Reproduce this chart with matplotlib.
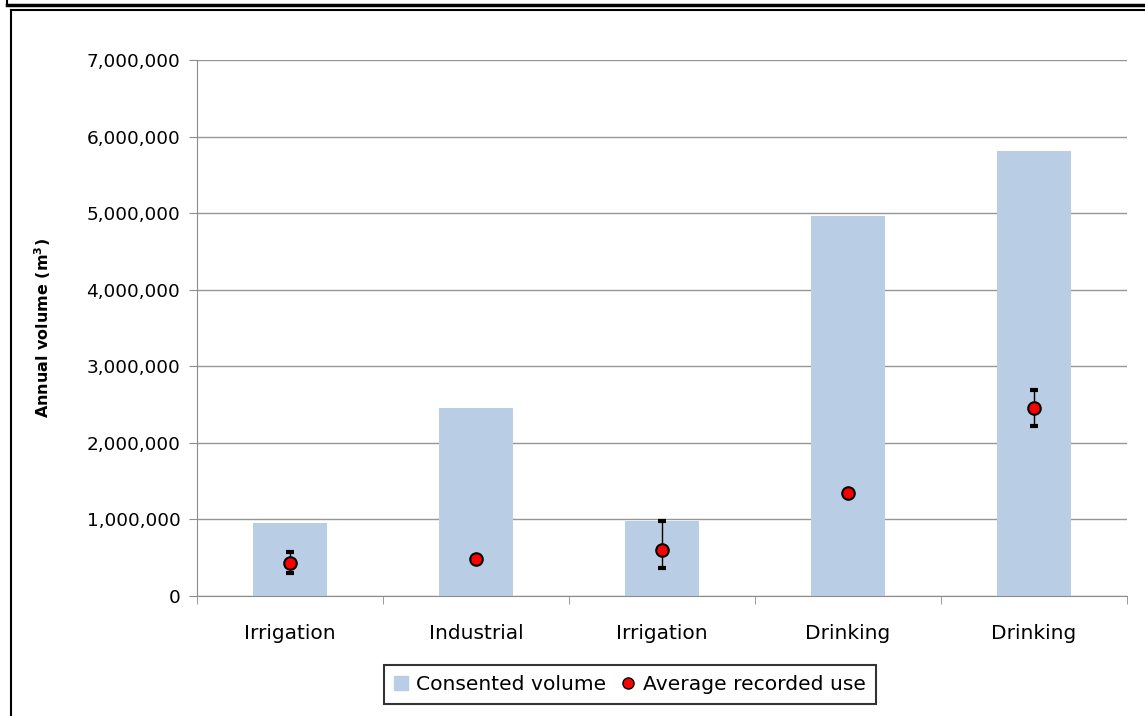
import numpy as np
import matplotlib
matplotlib.use("Agg")
import matplotlib.pyplot as plt
from matplotlib.lines import Line2D
from matplotlib.patches import Patch
from matplotlib.ticker import FuncFormatter

categories = ["Irrigation", "Industrial", "Irrigation", "Drinking", "Drinking"]
consented = [950000, 2450000, 975000, 4960000, 5810000]
avg_use = [430000, 480000, 600000, 1340000, 2460000]
err_low = [300000, 480000, 370000, 1340000, 2220000]
err_high = [580000, 480000, 975000, 1340000, 2690000]

plt.rcParams['font.family'] = ['DejaVu Sans']

fig = plt.figure(figsize=(11.45, 7.16), dpi=100)
ax = fig.add_axes([0.172, 0.1676, 0.812, 0.7486])

x = np.arange(len(categories))
ax.bar(x, consented, width=0.4, color='#B9CDE5', zorder=2)

yerr = [np.array(avg_use) - np.array(err_low), np.array(err_high) - np.array(avg_use)]
ax.errorbar(x, avg_use, yerr=yerr, fmt='none', ecolor='black', elinewidth=1,
            capsize=3, capthick=3, zorder=3)
ax.plot(x, avg_use, 'o', color='red', markeredgecolor='black',
        markeredgewidth=1.5, markersize=9, zorder=4)

ax.set_xlim(-0.5, len(categories) - 0.5)
ax.set_ylim(0, 7000000)
ax.set_yticks(np.arange(0, 7000001, 1000000))
ax.yaxis.set_major_formatter(FuncFormatter(lambda v, p: f"{int(v):,}"))
ax.grid(axis='y', color='#969696', linewidth=1, zorder=0)

ax.set_xticks(x)
ax.set_xticklabels(categories)
ax.set_xticks(np.arange(-0.5, len(categories), 1), minor=True)
ax.tick_params(axis='x', which='major', length=0, pad=20, labelsize=14.5)
ax.tick_params(axis='x', which='minor', length=6, color='#8c8c8c')
ax.tick_params(axis='y', length=6, color='#8c8c8c', labelsize=13.3, pad=6)

for s in ['top', 'right']:
    ax.spines[s].set_visible(False)
for s in ['left', 'bottom']:
    ax.spines[s].set_color('#8c8c8c')

ax.set_ylabel("Annual volume (m$^\\mathbf{3}$)", fontsize=11.5, fontweight='bold', labelpad=24)

handles = [Patch(color='#B9CDE5'),
           Line2D([], [], marker='o', linestyle='none', color='red',
                  markeredgecolor='black', markersize=8)]
leg = fig.legend(handles, ["Consented volume", "Average recorded use"], ncol=2,
                 loc='center', bbox_to_anchor=(0.55, 0.044), fontsize=14.6,
                 frameon=True, fancybox=False, edgecolor='black',
                 handlelength=0.7, handletextpad=0.4, columnspacing=0.7,
                 borderpad=0.5, borderaxespad=0)
leg.get_frame().set_linewidth(1.5)

# outer chart frame and the edge of the box above
fig.add_artist(Line2D([0.0097, 0.0097], [0, 1 - 10 / 716], color='black', lw=1.5,
                      transform=fig.transFigure))
fig.add_artist(Line2D([0.0097, 1], [1 - 10 / 716, 1 - 10 / 716], color='black', lw=1.5,
                      transform=fig.transFigure))
fig.add_artist(Line2D([0.006, 1], [1 - 5 / 716, 1 - 5 / 716], color='black', lw=2.5,
                      transform=fig.transFigure))
fig.add_artist(Line2D([0.006, 0.006], [1 - 5 / 716, 1], color='black', lw=1.5,
                      transform=fig.transFigure))

fig.savefig("out.png", dpi=100)
